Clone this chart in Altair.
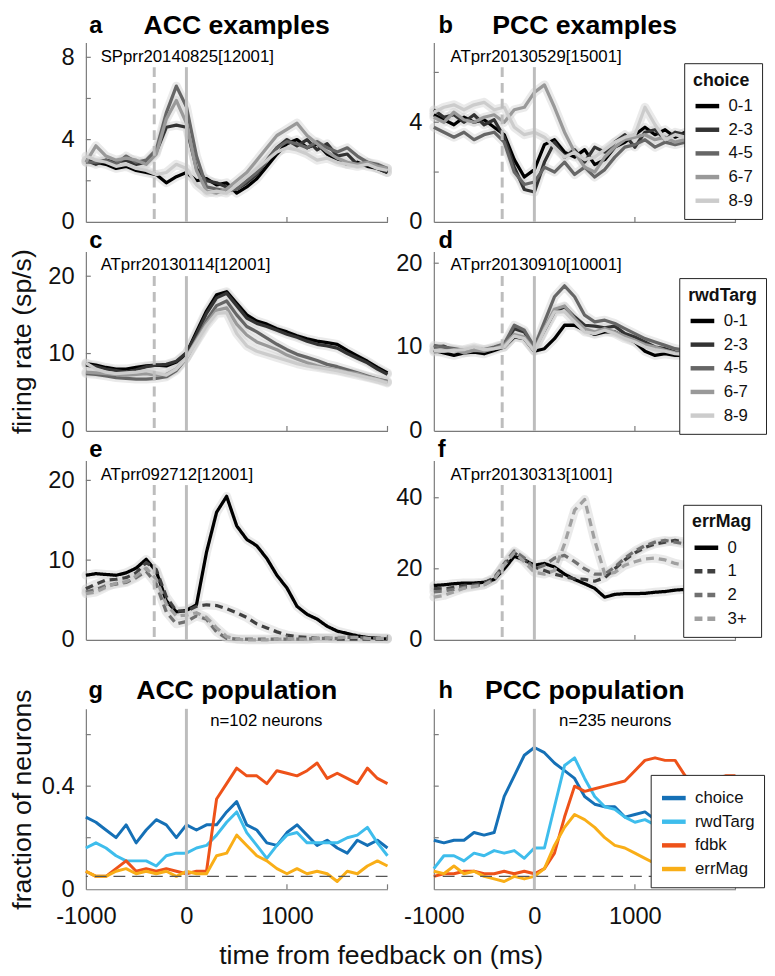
import altair as alt
import pandas as pd

# ---------------- data ----------------
T = list(range(-1000, 2001, 100))

LEVELS5 = ["0-1", "2-3", "4-5", "6-7", "8-9"]
ERR_LEVELS = ["0", "1", "2", "3+"]
POP_VARS = ["choice", "rwdTarg", "fdbk", "errMag"]

# a: ACC example, choice
a_01 = [3.0,2.9,2.8,2.6,2.7,2.5,2.4,2.3,1.9,2.2,2.4,2.0,2.1,1.8,1.9,1.4,1.7,2.1,2.7,3.3,3.8,4.0,3.6,3.8,3.3,3.0,2.8,2.9,2.7,2.6,2.4]
a_23 = [3.0,2.8,3.0,2.9,3.0,2.8,2.9,3.4,4.6,4.7,4.6,2.6,2.0,1.9,1.7,1.6,1.9,2.3,3.0,3.6,4.0,3.7,4.0,3.5,3.8,3.2,3.3,2.8,2.9,2.6,2.4]
a_45 = [2.9,2.9,3.0,2.8,3.2,2.9,3.0,3.5,5.3,6.6,5.6,3.2,1.7,1.6,1.5,1.6,2.0,2.4,3.0,3.6,3.9,3.8,3.6,3.9,3.6,3.4,3.6,3.2,2.9,2.8,2.6]
a_67 = [2.9,3.7,3.2,3.0,3.1,3.0,2.8,3.3,5.0,5.9,4.8,2.5,1.5,1.4,1.6,2.0,2.4,3.0,3.6,4.2,4.5,4.8,4.2,3.8,3.4,3.1,2.9,2.8,2.9,2.7,2.6]
a_89 = [3.2,3.0,2.9,2.7,2.8,2.6,2.5,2.3,2.4,2.8,2.6,1.8,1.4,1.5,1.4,1.8,2.2,2.6,3.0,3.4,3.6,3.5,3.3,3.0,3.1,2.9,2.8,2.7,2.8,2.6,2.5]

# b: PCC example, choice
b_01 = [4.3,4.1,3.9,4.2,4.0,4.1,3.8,3.5,2.5,1.8,2.1,3.1,3.3,2.8,2.6,2.9,2.3,2.5,3.0,3.2,3.5,3.8,3.5,3.7,3.4,3.6,3.3,3.5,3.7,3.4,3.5]
b_23 = [4.5,4.2,4.3,4.0,4.3,3.9,4.1,3.4,2.2,1.3,1.2,2.4,3.2,2.6,2.9,2.4,3.0,2.8,3.2,3.5,3.0,3.6,3.7,3.3,3.6,3.5,3.4,3.6,3.5,3.3,3.4]
b_45 = [3.8,3.6,3.4,3.6,3.3,3.5,3.6,3.2,2.0,1.5,1.6,2.2,2.0,2.4,1.9,2.2,1.8,2.1,2.6,3.0,3.1,3.3,3.0,3.2,3.1,3.2,3.0,3.1,3.2,3.0,3.1]
b_67 = [4.2,4.0,4.4,4.1,4.0,4.2,4.3,4.0,4.5,4.6,5.2,5.5,4.6,3.6,2.8,2.2,2.0,2.6,3.0,3.3,3.4,3.5,3.3,3.4,3.2,3.3,3.4,3.2,3.3,3.4,3.3]
b_89 = [4.4,4.6,4.7,4.5,4.7,4.8,4.5,4.6,3.8,3.5,3.6,3.4,3.0,2.6,2.8,2.5,2.6,2.9,3.2,3.4,3.5,4.6,3.9,3.3,3.5,3.4,3.5,3.3,3.4,3.5,3.4]

# c: ACC example, rwdTarg
c_01 = [8.7,8.5,8.2,8.0,8.0,8.2,8.4,8.5,8.4,8.9,10.0,12.8,15.5,17.6,18.0,16.5,15.0,14.2,13.8,13.2,12.8,12.3,11.9,11.6,11.4,11.2,10.4,9.7,9.0,8.2,7.5]
c_23 = [8.5,8.3,8.0,7.8,7.6,7.9,8.3,8.5,8.6,9.0,10.1,12.5,15.2,17.2,17.8,16.2,14.6,13.9,13.5,13.0,12.5,12.1,11.6,11.2,11.0,10.7,10.0,9.4,8.8,8.0,7.3]
c_45 = [7.4,7.3,7.1,6.9,6.8,6.7,6.7,6.8,7.0,7.8,9.4,11.8,14.3,16.2,16.8,15.0,13.5,12.8,12.0,11.2,10.5,9.9,9.5,9.1,8.6,8.3,7.9,7.5,7.1,6.7,6.4]
c_67 = [7.6,7.5,7.4,7.3,7.2,7.3,7.4,7.2,7.3,8.0,9.5,11.7,13.9,15.6,15.9,13.8,12.4,11.5,11.0,10.5,9.8,9.3,8.8,8.4,8.1,7.9,7.6,7.4,7.0,6.7,6.3]
c_89 = [8.8,8.0,7.6,7.4,7.5,7.6,7.8,7.5,7.2,8.0,9.4,11.5,13.6,15.2,15.3,12.6,11.0,10.3,9.9,9.5,9.1,8.7,8.4,8.2,8.0,7.8,7.5,7.2,6.9,6.6,6.2]

# d: PCC example, rwdTarg
d_01 = [9.6,9.3,9.0,9.3,9.4,9.2,9.6,10.0,11.2,11.0,9.5,9.8,11.0,12.6,12.6,12.0,11.5,11.8,11.8,11.2,10.6,9.5,9.0,9.2,9.0,9.0,8.9,8.8,8.9,8.8,8.8]
d_23 = [10.0,10.1,9.6,9.5,9.8,9.5,9.9,10.3,12.2,11.8,9.8,12.0,14.2,14.8,13.6,12.6,12.5,12.3,12.5,11.6,11.2,10.6,10.0,9.8,9.4,9.2,9.1,9.0,9.1,9.0,9.0]
d_45 = [10.2,10.0,9.8,9.6,9.8,9.7,10.0,10.4,12.6,12.0,10.0,13.0,16.0,17.3,16.0,13.8,13.0,13.2,12.8,12.2,11.6,11.0,10.6,10.2,9.8,9.6,9.5,9.4,9.5,9.4,9.4]
d_67 = [9.4,9.5,9.7,9.3,9.6,9.5,9.8,10.2,11.5,11.2,9.6,12.2,14.5,14.9,13.4,12.2,11.8,12.2,11.8,11.3,10.8,10.3,10.0,9.6,9.3,9.2,9.1,9.0,9.1,9.0,9.0]
d_89 = [9.6,9.5,9.6,9.7,10.0,9.7,9.8,10.0,11.3,11.0,9.5,12.0,14.2,14.2,13.0,11.8,11.6,12.0,11.6,11.0,10.6,10.0,9.7,9.5,9.2,9.1,9.0,9.0,9.0,8.9,8.9]

# e: ACC example, errMag
e_0 = [8.1,8.3,8.2,8.1,8.4,9.0,10.1,8.6,4.9,3.5,3.7,4.4,11.0,16.0,18.0,14.3,12.6,11.8,10.2,8.1,6.5,4.2,3.2,2.6,1.7,1.1,0.8,0.5,0.3,0.2,0.1]
e_1 = [6.4,7.0,7.5,7.6,7.8,8.4,9.7,8.8,5.4,3.6,3.6,4.2,4.4,4.3,3.9,3.4,2.8,2.0,1.5,1.0,0.6,0.4,0.3,0.2,0.2,0.1,0.1,0.1,0.1,0.1,0.1]
e_2 = [6.0,6.3,6.8,7.0,7.2,7.8,8.6,7.0,3.5,2.0,2.3,3.0,2.6,1.0,0.2,0.1,0.1,0.1,0.1,0.1,0.1,0.1,0.1,0.2,0.2,0.2,0.3,0.3,0.2,0.2,0.2]
e_3 = [5.8,6.0,6.6,7.1,7.3,8.0,9.0,7.6,4.5,3.0,3.1,3.4,2.8,1.5,0.4,0.1,0.0,0.0,0.0,0.1,0.1,0.1,0.1,0.2,0.2,0.3,0.3,0.3,0.2,0.2,0.2]

# f: PCC example, errMag
f_0 = [15.3,15.5,15.8,16.0,16.0,16.2,17.0,20.0,23.5,22.5,21.0,21.5,20.5,18.5,17.0,15.8,14.5,12.0,12.8,13.0,13.0,13.1,13.4,13.6,14.0,14.2,14.4,14.6,14.6,14.8,15.0]
f_1 = [14.5,14.3,14.8,15.3,15.5,16.0,17.5,21.0,24.5,22.5,20.5,19.5,18.5,17.8,17.2,17.0,16.5,17.5,20.0,22.5,24.5,26.0,27.0,27.5,28.0,27.5,27.0,27.5,27.0,27.5,27.0]
f_2 = [13.5,13.8,14.2,14.8,15.2,15.5,17.0,21.5,25.0,23.0,20.0,21.0,23.0,23.8,22.0,20.0,18.5,18.5,20.5,23.0,25.0,26.5,27.5,28.0,27.5,27.0,27.5,27.0,27.5,27.0,27.5]
f_3 = [12.0,12.5,13.5,14.5,15.0,15.5,17.0,21.0,24.5,22.0,19.0,18.5,19.5,27.0,36.5,39.5,28.0,18.5,19.0,21.0,22.0,22.8,23.0,22.5,21.5,21.0,21.5,21.0,21.5,21.0,21.5]

# g: ACC population (fraction of neurons)
g_choice = [0.28,0.26,0.23,0.20,0.25,0.18,0.23,0.27,0.25,0.20,0.25,0.23,0.25,0.25,0.30,0.34,0.25,0.23,0.18,0.17,0.22,0.25,0.21,0.17,0.19,0.16,0.14,0.19,0.17,0.19,0.16]
g_rwd = [0.16,0.18,0.16,0.13,0.11,0.11,0.11,0.09,0.13,0.14,0.14,0.16,0.17,0.21,0.26,0.30,0.22,0.17,0.12,0.17,0.21,0.22,0.18,0.18,0.18,0.18,0.20,0.21,0.24,0.18,0.13]
g_fdbk = [0.07,0.05,0.05,0.08,0.11,0.07,0.08,0.07,0.08,0.07,0.06,0.07,0.07,0.35,0.41,0.47,0.44,0.44,0.41,0.46,0.45,0.44,0.46,0.49,0.43,0.45,0.43,0.41,0.47,0.43,0.41]
g_err = [0.07,0.05,0.05,0.07,0.08,0.06,0.07,0.06,0.07,0.05,0.07,0.06,0.06,0.13,0.14,0.21,0.17,0.13,0.11,0.08,0.06,0.08,0.06,0.07,0.06,0.03,0.07,0.06,0.09,0.11,0.09]

# h: PCC population
h_choice = [0.19,0.18,0.19,0.19,0.22,0.21,0.22,0.36,0.44,0.52,0.55,0.53,0.49,0.46,0.43,0.36,0.33,0.32,0.32,0.28,0.29,0.30,0.27,0.26,0.27,0.26,0.25,0.26,0.25,0.26,0.25]
h_rwd = [0.08,0.13,0.13,0.11,0.14,0.13,0.15,0.14,0.15,0.12,0.16,0.16,0.32,0.48,0.51,0.43,0.36,0.32,0.31,0.28,0.26,0.27,0.25,0.26,0.25,0.24,0.25,0.24,0.23,0.24,0.23]
h_fdbk = [0.05,0.06,0.06,0.07,0.07,0.06,0.06,0.07,0.06,0.07,0.06,0.08,0.14,0.28,0.40,0.38,0.39,0.40,0.41,0.42,0.46,0.50,0.51,0.50,0.50,0.44,0.42,0.42,0.43,0.44,0.44]
h_err = [0.07,0.06,0.09,0.06,0.07,0.05,0.04,0.03,0.05,0.04,0.05,0.08,0.17,0.24,0.29,0.27,0.24,0.20,0.17,0.16,0.14,0.12,0.10,0.09,0.09,0.08,0.08,0.07,0.07,0.07,0.07]

# axis tick positions (inward ticks)
a_yticks = [2, 4, 6, 8]
b_yticks = [2, 4, 6]
cde_yticks = [10, 20]
f_yticks = [20, 40]
pop_yticks = [0.2, 0.4, 0.6]
ex_xticks = [1000, 2000]
pop_xticks = [0, 1000, 2000]

for s in [a_01,a_23,a_45,a_67,a_89,b_01,b_23,b_45,b_67,b_89,c_01,c_23,c_45,c_67,c_89,
          d_01,d_23,d_45,d_67,d_89,e_0,e_1,e_2,e_3,f_0,f_1,f_2,f_3,
          g_choice,g_rwd,g_fdbk,g_err,h_choice,h_rwd,h_fdbk,h_err]:
    assert len(s) == len(T), len(s)

# ---------------- style ----------------
FONT = "Liberation Sans"
TXT = "#111111"
AX = "#7a7a7a"
W = 306
H = 182
H4 = 183
CUE_T = -320

GRAY5 = ["#000000", "#333333", "#666666", "#999999", "#cccccc"]
ERR_GRAY = ["#000000", "#404040", "#707070", "#a0a0a0"]
ERR_DASH = [[1, 0], [8, 5], [8, 5], [8, 5]]
POP_COL = ["#1570b6", "#3ebdec", "#ee5219", "#f9ae17"]
LABEL_EXPR = "'' + datum.value"


def long_df(levels, series):
    rows = []
    for lev, vals in zip(levels, series):
        for t, v in zip(T, vals):
            rows.append({"t": t, "v": v, "s": lev})
    return pd.DataFrame(rows)


def text_layer(txt, x, y, size, bold=False, align="left"):
    return alt.Chart(pd.DataFrame({"k": [0]})).mark_text(
        text=txt, align=align, baseline="middle", font=FONT, fontSize=size,
        fontWeight="bold" if bold else "normal", color="#000000",
    ).encode(x=alt.value(x), y=alt.value(y))


def mk_legend(title, lx, ly):
    return alt.Legend(
        title=title, orient="none", legendX=lx, legendY=ly,
        fillColor="#ffffff", strokeColor="#222222", padding=9, cornerRadius=0,
        labelFont=FONT, labelFontSize=17, labelColor=TXT, labelOffset=7,
        symbolType="stroke", symbolStrokeWidth=4.5, symbolSize=576,
        rowPadding=0, titleFont=FONT, titleFontSize=18, titleFontWeight="bold",
        titleColor=TXT, titlePadding=2,
    )


def panel(levels, series, colors, ydom, yvals, yticks, xticks, h=H, dashes=None,
          legend=None, band=True, ylabels=True, xlabels=False, ytitle=None, xtitle=None,
          cue=True, zero_top=25, hline=None, texts=(), line_w=3.3):
    df = long_df(levels, series)
    xax = alt.Axis(values=[-1000, 0, 1000], ticks=False, grid=False, labels=xlabels,
                   labelExpr=LABEL_EXPR,
                   domainColor=AX, domainWidth=1.2, labelFont=FONT, labelFontSize=24,
                   labelColor=TXT, labelPadding=16, labelFlush=False, labelOverlap=False,
                   title=xtitle, titleFont=FONT, titleFontSize=27, titleFontWeight="normal",
                   titleColor=TXT, titleX=299, titleY=67, titleAlign="center",
                   titleBaseline="middle")
    yax = alt.Axis(values=yvals, ticks=False, grid=False, labels=ylabels,
                   labelExpr=LABEL_EXPR,
                   domainColor=AX, domainWidth=1.2, labelFont=FONT, labelFontSize=24,
                   labelColor=TXT, labelPadding=12, labelOverlap=False,
                   title=ytitle, titleFont=FONT, titleFontSize=27, titleFontWeight="normal",
                   titleColor=TXT, titleX=-64, titleY=h / 2, titleAlign="center",
                   titleBaseline="middle")
    x = alt.X("t:Q", scale=alt.Scale(domain=[-1000, 2000], nice=False, zero=False), axis=xax)
    y = alt.Y("v:Q", scale=alt.Scale(domain=ydom, nice=False, zero=False), axis=yax)
    base = alt.Chart(df).encode(x=x, y=y)
    layers = []
    if band:
        layers.append(base.mark_line(strokeWidth=9, color="#d0d0d0", opacity=0.45,
                                     strokeCap="round", strokeJoin="round").encode(detail="s:N"))
    enc = dict(color=alt.Color("s:N", scale=alt.Scale(domain=levels, range=colors), legend=legend))
    if dashes:
        enc["strokeDash"] = alt.StrokeDash("s:N", scale=alt.Scale(domain=levels, range=dashes),
                                           legend=legend)
    layers.append(base.mark_line(strokeWidth=line_w, strokeJoin="round").encode(**enc))
    # inward tick marks
    layers.append(alt.Chart(pd.DataFrame({"v": yticks})).mark_rule(
        color=AX, strokeWidth=1.2).encode(y=y, x=alt.value(0), x2=alt.value(5)))
    layers.append(alt.Chart(pd.DataFrame({"t": xticks})).mark_rule(
        color=AX, strokeWidth=1.2).encode(x=x, y=alt.value(h), y2=alt.value(h - 5)))
    if cue:
        layers.append(alt.Chart(pd.DataFrame({"t": [CUE_T]})).mark_rule(
            color="#bdbdbd", strokeWidth=3, strokeDash=[10, 6]).encode(
            x=x, y=alt.value(zero_top), y2=alt.value(h)))
    layers.append(alt.Chart(pd.DataFrame({"t": [0]})).mark_rule(
        color="#bdbdbd", strokeWidth=3).encode(x=x, y=alt.value(zero_top), y2=alt.value(h)))
    if hline is not None:
        layers.append(alt.Chart(pd.DataFrame({"v": [hline]})).mark_rule(
            color="#555555", strokeWidth=1.2, strokeDash=[12, 7]).encode(y=y))
    for tx in texts:
        layers.append(text_layer(*tx))
    return alt.layer(*layers).properties(width=W, height=h)


def spacer(h):
    return alt.Chart(pd.DataFrame({"k": [0]})).mark_point(opacity=0).properties(width=W, height=h)


pa = panel(LEVELS5, [a_01, a_23, a_45, a_67, a_89], GRAY5, [0, 8.72], [0, 4, 8],
           a_yticks, ex_xticks,
           texts=[("SPprr20140825[12001]", 15, 15, 17),
                  ("a", 10, -17, 24, True, "center"),
                  ("ACC examples", W / 2, -17, 27, True, "center")])
pb = panel(LEVELS5, [b_01, b_23, b_45, b_67, b_89], GRAY5, [0, 7.2], [0, 4],
           b_yticks, ex_xticks,
           legend=mk_legend("choice", 254, 21),
           texts=[("ATprr20130529[15001]", 17, 15, 17),
                  ("b", 12, -17, 24, True, "center"),
                  ("PCC examples", W / 2, -17, 27, True, "center")])
pc = panel(LEVELS5, [c_01, c_23, c_45, c_67, c_89], GRAY5, [0, 23.2], [0, 10, 20],
           cde_yticks, ex_xticks,
           ytitle="firing rate (sp/s)",
           texts=[("ATprr20130114[12001]", 15, 14, 17),
                  ("c", 10, -11, 24, True, "center")])
pd_ = panel(LEVELS5, [d_01, d_23, d_45, d_67, d_89], GRAY5, [0, 21.4], [0, 10, 20],
            cde_yticks, ex_xticks,
            legend=mk_legend("rwdTarg", 249, 27),
            texts=[("ATprr20130910[10001]", 17, 14, 17),
                   ("d", 12, -11, 24, True, "center")])
pe = panel(ERR_LEVELS, [e_0, e_1, e_2, e_3], ERR_GRAY, [0, 22.5], [0, 10, 20],
           cde_yticks, ex_xticks,
           dashes=ERR_DASH,
           texts=[("ATprr092712[12001]", 15, 15, 17),
                  ("e", 10, -10, 24, True, "center")])
pf = panel(ERR_LEVELS, [f_0, f_1, f_2, f_3], ERR_GRAY, [0, 50.5], [0, 20, 40],
           f_yticks, ex_xticks,
           dashes=ERR_DASH, legend=mk_legend("errMag", 253, 45),
           texts=[("ATprr20130313[1001]", 17, 15, 17),
                  ("f", 8, -10, 24, True, "center")])
pg = panel(POP_VARS, [g_choice, g_rwd, g_fdbk, g_err], POP_COL, [0, 0.7], [0, 0.4],
           pop_yticks, pop_xticks,
           h=H4, band=False, cue=False, zero_top=0, hline=0.05, xlabels=True,
           ytitle="fraction of neurons", xtitle="time from feedback on (ms)", line_w=3,
           texts=[("n=102 neurons", 183, 12, 17, False, "center"),
                  ("g", 10, -18, 24, True, "center"),
                  ("ACC population", W / 2, -18, 27, True, "center")])
ph = panel(POP_VARS, [h_choice, h_rwd, h_fdbk, h_err], POP_COL, [0, 0.7], [0, 0.4],
           pop_yticks, pop_xticks,
           h=H4, band=False, cue=False, zero_top=0, hline=0.05, xlabels=True,
           ylabels=False, legend=mk_legend(None, 220, 67), line_w=3,
           texts=[("n=235 neurons", 184, 12, 17, False, "center"),
                  ("h", 12, -18, 24, True, "center"),
                  ("PCC population", W / 2, -18, 27, True, "center")])

chart = (
    alt.concat(pa, pb, pc, pd_, pe, pf, spacer(10), spacer(10), pg, ph,
               columns=2, spacing={"row": 30, "column": 47}, bounds="flush")
    .resolve_scale(color="independent", strokeDash="independent")
    .properties(padding={"left": 0, "top": -3, "right": 0, "bottom": 0})
    .configure_view(strokeWidth=0)
)

chart.save("out.html", embed_options={"renderer": "svg", "actions": False})
